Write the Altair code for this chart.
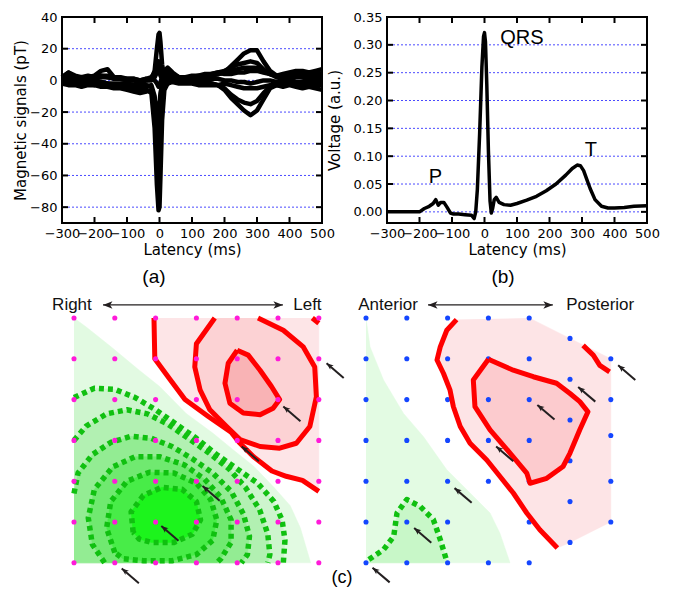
import altair as alt
import pandas as pd

# ---------------- panel (a): magnetic traces ----------------
T_MS = [-300, -280, -260, -240, -220, -200, -180, -160, -140, -120, -100, -80, -60, -40,
        -25, -15, -8, -3, 0, 3, 8, 15, 25,
        40, 60, 80, 100, 120, 140, 160, 180, 200, 220, 240, 260, 280, 300, 320, 340,
        360, 380, 400, 420, 440, 460, 480, 500]
TRACE_1 = [1, 3, 1, 0, 1, 1, 2, 2, 1, 1, 0, 0, -1, 0,
           1, 6, 20, 29, 30, 24, 10, 2, 3,
           4, 2, 1, 2, 2, 3, 3, 4, 5, 9, 13, 17, 19, 19, 12, 6, 3, 2, 2, 3, 2, 1, 2, 3]
TRACE_2 = [-1, -2, -2, -1, -2, -3, -2, -3, -4, -4, -5, -6, -7, -6,
           -8, -30, -66, -82, -80, -60, -25, -6, -2,
           0, -1, -1, -1, -2, -2, -2, -3, -6, -11, -15, -19, -22, -19, -12, -5, -3, -3, -2, -3, -3, -2, -3, -3]
TRACE_3 = [0, 0, -1, -2, -1, -2, -1, -2, -3, -3, -3, -4, -5, -4,
           -3, -10, -28, -35, -30, -18, -6, -1, 1,
           1, 0, 0, -1, -1, -1, -2, -3, -5, -9, -12, -14, -15, -13, -8, -4, -2, -2, -1, -2, -2, -1, -2, -2]
TRACE_4 = [2, 5, 2, 1, 2, 2, 3, 2, 2, 1, 1, 1, 0, 1,
           2, 5, 10, 12, 10, 6, 3, 6, 8,
           5, 2, 2, 3, 3, 4, 4, 5, 6, 8, 10, 11, 12, 11, 7, 4, 3, 3, 3, 4, 4, 3, 4, 4]
TRACE_5 = [0, 1, 0, 1, 2, 3, 6, 7, 2, 1, 0, 0, -1, 0,
           0, 2, 5, 6, 5, 3, 1, 0, 1,
           1, 1, 0, 1, 2, 2, 3, 4, 5, 6, 7, 8, 8, 8, 6, 4, 2, 1, 1, 2, 2, 1, 1, 2]
TRACE_6 = [-2, -3, -3, -4, -3, -3, -4, -4, -5, -5, -6, -7, -8, -7,
           -6, -12, -18, -20, -15, -8, -3, -2, -2,
           -1, -2, -2, -2, -3, -3, -3, -3, -2, -3, -4, -5, -5, -5, -4, -3, -3, -4, -3, -4, -5, -4, -5, -6]
TRACE_7 = [2, 5, 3, 2, 3, 2, 3, 3, 2, 2, 1, 1, 0, 1,
           1, 0, -2, -4, -3, -1, 2, 4, 6,
           3, 2, 2, 2, 3, 3, 4, 5, 4, 4, 5, 5, 6, 6, 5, 4, 3, 4, 5, 6, 6, 5, 6, 7]
TRACE_8 = [0, -1, 0, 0, -1, -1, -1, -2, -2, -2, -2, -3, -3, -3,
           -4, -15, -45, -55, -48, -30, -10, -3, 0,
           1, 0, 0, 0, 1, 1, 1, 1, 0, 0, -1, -1, -2, -1, 0, 0, -1, -1, 0, -1, -1, 0, -1, 0]
A_TRACES = [TRACE_1, TRACE_2, TRACE_3, TRACE_4, TRACE_5, TRACE_6, TRACE_7, TRACE_8]

# ---------------- panel (b): ECG ----------------
ECG_T = [-300, -250, -200, -185, -170, -158, -150, -142, -135, -125, -115, -105, -95,
         -80, -60, -40, -32, -27, -22, -15, -8, -3, 0,
         3, 7, 12, 17, 21, 25, 30, 36, 45, 60,
         80, 100, 130, 160, 190, 220, 250, 270, 285, 295,
         305, 315, 325, 340, 360, 380, 400, 430, 460, 500]
ECG_V = [0.0, 0.0, 0.0, 0.006, 0.01, 0.015, 0.022, 0.012, 0.017, 0.017, 0.008, -0.002, -0.004,
         -0.004, -0.005, -0.006, -0.012, 0.0, 0.04, 0.14, 0.26, 0.315, 0.322,
         0.305, 0.23, 0.11, 0.02, -0.002, 0.006, 0.022, 0.026, 0.017, 0.013,
         0.012, 0.015, 0.021, 0.028, 0.038, 0.05, 0.066, 0.078, 0.084, 0.083,
         0.074, 0.058, 0.042, 0.022, 0.01, 0.007, 0.007, 0.008, 0.01, 0.011]
B_LABELS = ["P", "QRS", "T"]
B_LABEL_T = [-151, 115, 327]
B_LABEL_V = [0.062, 0.3115, 0.112]

X_TICKS = [-300, -200, -100, 0, 100, 200, 300, 400, 500]
A_Y_TICKS = [40, 20, 0, -20, -40, -60, -80]
A_GRID = [20, 0, -20, -40, -60, -80]
B_Y_TICKS = [0.0, 0.05, 0.10, 0.15, 0.20, 0.25, 0.30, 0.35]
B_GRID = [0.0, 0.05, 0.10, 0.15, 0.20, 0.25, 0.30]

# ---------------- panel (c): maps (grid units, 7x7 sensor grid) ----------------
GREEN_BOUND_L = [(0, 0), (0.3, 0.22), (0.9, 0.7), (1.6, 1.28), (2.1, 1.68), (2.75, 2.34), (3.4, 2.82),
                 (3.9, 3.23), (4.4, 3.63), (4.9, 4.15), (5.3, 4.6), (5.55, 5.15), (5.8, 6.0), (0, 6.0)]
RING6 = [(0.0, 1.95), (0.5, 1.72), (1.0, 1.75), (1.5, 1.95), (2.0, 2.25), (2.5, 2.6), (3.0, 2.95),
         (3.5, 3.35), (4.0, 3.7), (4.5, 4.05), (4.9, 4.5), (5.1, 4.95), (5.17, 5.45), (5.13, 6.0)]
RING5 = [(0.0, 3.0), (0.3, 2.65), (0.8, 2.35), (1.3, 2.25), (1.8, 2.35), (2.3, 2.6), (2.8, 2.95),
         (3.3, 3.3), (3.8, 3.7), (4.2, 4.15), (4.55, 4.7), (4.75, 5.3), (4.8, 5.8), (4.75, 6.0)]
RING4 = [(0.0, 4.3), (0.1, 3.8), (0.45, 3.35), (0.9, 3.05), (1.4, 2.9), (1.9, 2.95), (2.4, 3.15),
         (2.9, 3.45), (3.4, 3.8), (3.85, 4.25), (4.15, 4.8), (4.3, 5.35), (4.25, 5.8), (4.1, 6.0)]
RING3 = [(0.75, 6.0), (0.45, 5.55), (0.35, 4.9), (0.5, 4.2), (0.95, 3.65), (1.5, 3.4), (2.1, 3.4),
         (2.7, 3.6), (3.2, 3.95), (3.6, 4.4), (3.85, 4.95), (3.85, 5.5), (3.6, 5.9), (3.5, 6.0)]
RING2 = [(1.0, 5.75), (0.8, 5.15), (0.9, 4.5), (1.3, 4.0), (1.85, 3.78), (2.45, 3.8), (3.0, 4.05),
         (3.35, 4.45), (3.5, 4.95), (3.4, 5.45), (3.0, 5.8), (2.4, 5.95), (1.7, 5.95), (1.2, 5.9), (1.0, 5.75)]
RING1 = [(1.45, 5.25), (1.4, 4.75), (1.7, 4.35), (2.15, 4.15), (2.65, 4.2), (3.0, 4.5), (3.1, 4.95),
         (2.9, 5.3), (2.45, 5.5), (1.9, 5.5), (1.6, 5.42), (1.45, 5.25)]
OUTER_RED_L = [(1.96, 0.0), (1.98, 1.0), (2.35, 1.5), (2.72, 2.0), (3.3, 2.42), (3.85, 2.8), (4.05, 3.05),
               (4.4, 3.4), (4.85, 3.75), (5.2, 3.88), (5.6, 3.98), (6.0, 4.25)]
MID_RED_L = [(3.45, 0.0), (3.0, 0.63), (2.96, 1.2), (3.09, 1.76), (3.33, 2.25), (3.74, 2.66), (4.07, 2.98),
             (4.56, 3.15), (5.04, 3.19), (5.45, 3.07), (5.78, 2.66), (5.94, 1.93), (5.9, 1.2), (5.62, 0.71),
             (5.13, 0.3), (4.51, 0.0)]
INNER_RED_L = [(4.0, 0.79), (3.78, 1.11), (3.7, 1.6), (3.82, 2.09), (4.15, 2.33), (4.56, 2.37), (4.88, 2.21),
               (5.04, 2.0), (4.84, 1.68), (4.56, 1.28), (4.27, 0.91), (4.0, 0.79)]
CORNER_RED_L = [(5.84, 0.0), (6.0, 0.13)]
ARROWS_L = [(6.19, 1.11), (5.13, 2.17), (4.11, 3.15), (3.15, 4.12), (2.14, 5.1), (1.17, 6.14)]

GREEN_BOUND_R = [(0, 0), (0.1, 0.71), (0.43, 1.52), (0.92, 2.34), (1.41, 2.91), (1.98, 3.72), (2.63, 4.37),
                 (3.04, 4.78), (3.28, 5.27), (3.53, 6.0), (0, 6.0)]
GREEN_LOOP_R = [(0.07, 5.92), (0.43, 5.68), (0.68, 5.35), (0.76, 4.78), (1.0, 4.45), (1.33, 4.62),
                (1.65, 4.94), (1.82, 5.43), (1.98, 5.96)]
OUTER_RED_R = [(2.22, 0.04), (1.98, 0.3), (1.82, 0.71), (1.74, 1.03), (1.9, 1.36), (2.06, 1.77), (2.14, 2.17),
               (2.31, 2.66), (2.55, 3.07), (2.96, 3.48), (3.28, 3.88), (3.61, 4.29), (3.94, 4.78), (4.26, 5.19),
               (4.69, 5.64)]
PINK_HULL_R = [(5.0, 5.5), (6.0, 5.0), (6.0, 1.0), (5.0, 0.5), (4.0, 0.0)]
INNER_RED_R = [(3.0, 1.01), (2.63, 1.52), (2.67, 2.17), (3.04, 2.74), (3.53, 3.31), (3.94, 3.8), (4.02, 4.05),
               (4.43, 3.93), (4.83, 3.64), (5.0, 3.31), (5.24, 2.74), (5.44, 2.3), (5.24, 2.05), (5.0, 1.85),
               (4.67, 1.6), (4.1, 1.44), (3.61, 1.28), (3.0, 1.01)]
TOPRIGHT_RED_R = [(5.32, 0.67), (5.57, 0.91), (5.73, 1.16), (5.97, 1.32)]
ARROWS_R = [(6.18, 1.16), (5.2, 1.69), (4.2, 2.13), (3.19, 3.15), (2.17, 4.17), (1.18, 5.15), (0.16, 6.12)]

DOTS_L_X = [c for c in range(7) for r in range(7)]
DOTS_L_Y = [r for c in range(7) for r in range(7)]
DOTS_R_X = [0] * 7 + [1] * 7 + [2] * 7 + [3] * 6 + [4] * 7 + [5] * 6 + [6] * 5
DOTS_R_Y = (list(range(7)) * 3 + [0, 1, 2, 3, 4, 6] + list(range(7))
            + [0.5, 1.5, 2.5, 3.5, 4.5, 5.5] + [1, 2, 2.88, 4, 5])

# ---------------- styling ----------------
AX_FONT = "DejaVu Sans"
TX_FONT = "Liberation Sans"
W, H = 260, 206
MAP_H = 294
Y_MAP = [-0.686, 6.52]
X_MAP_L = [-0.294, 6.078]
X_MAP_R = [0.5147, 6.887]
ARROW_DX, ARROW_DY = 0.42, 0.36
HEAD_PATH = "M0,0 L0.8,2 L0,1.5 L-0.8,2 Z"
HHEAD_PATH = "M0,0 L2,-0.8 L1.5,0 L2,0.8 Z"


def panel(df_lines, ydom, yticks, ygrid, yfmt, ytitle, ytsize, lab_pad, title_pad, sw, texts):
    sx = alt.Scale(domain=[-300, 500], nice=False, zero=False)
    sy = alt.Scale(domain=ydom, nice=False, zero=False)
    ax_x = alt.Axis(values=X_TICKS, ticks=False, domain=False, grid=False, labelFont=AX_FONT,
                    labelFontSize=13, labelPadding=4, labelOverlap=False, labelFlush=False,
                    labelColor="black", titleFont=AX_FONT, titleFontSize=15, titleFontWeight="normal",
                    titleColor="black", titlePadding=2, title="Latency (ms)")
    ax_y = alt.Axis(values=yticks, format=yfmt, ticks=False, domain=False,
                    grid=False, labelFont=AX_FONT, labelFontSize=13,
                    labelPadding=lab_pad, labelOverlap=False, labelFlush=False,
                    labelColor="black", titleFont=AX_FONT, titleFontSize=ytsize,
                    titleFontWeight="normal", titleColor="black",
                    titlePadding=title_pad, title=ytitle)
    xa = alt.X("t:Q", scale=sx, axis=ax_x)
    ya = alt.Y("v:Q", scale=sy, axis=ax_y)
    grid = alt.Chart(pd.DataFrame({"v": ygrid})).mark_rule(
        color="#4a4aff", strokeDash=[2, 2], strokeWidth=1).encode(y=ya)
    xt = pd.DataFrame({"t": X_TICKS})
    yt = pd.DataFrame({"v": yticks})
    tick_b = alt.Chart(xt).mark_rule(color="black", strokeWidth=2).encode(
        x=xa, y=alt.value(H), y2=alt.value(H - 6))
    tick_t = alt.Chart(xt).mark_rule(color="black", strokeWidth=2).encode(
        x=xa, y=alt.value(0), y2=alt.value(6))
    tick_l = alt.Chart(yt).mark_rule(color="black", strokeWidth=2).encode(
        y=ya, x=alt.value(0), x2=alt.value(6))
    tick_r = alt.Chart(yt).mark_rule(color="black", strokeWidth=2).encode(
        y=ya, x=alt.value(W - 6), x2=alt.value(W))
    lines = alt.Chart(df_lines).mark_line(color="black", strokeWidth=sw, strokeJoin="round").encode(
        x=xa, y=ya, detail="trace:N")
    txt_layers = []
    for (dft, size) in texts:
        txt_layers.append(alt.Chart(dft).mark_text(font=TX_FONT, fontSize=size, color="black").encode(
            x=xa, y=ya, text="label:N"))
    return alt.layer(grid, lines, tick_b, tick_t, tick_l, tick_r, *txt_layers).properties(
        width=W, height=H, view=alt.ViewBackground(stroke="black", strokeWidth=2))


rows = []
for k, tr in enumerate(A_TRACES):
    for t, v in zip(T_MS, tr):
        rows.append({"t": t, "v": v, "trace": f"ch{k}"})
df_a = pd.DataFrame(rows)
chart_a = panel(df_a, [-90, 40], A_Y_TICKS, A_GRID, "d", "Magnetic signals (pT)", 15, 5, 1, 4.5,
                [(pd.DataFrame({"t": [-17], "v": [-124], "label": ["(a)"]}), 19)])

df_b = pd.DataFrame({"t": ECG_T, "v": ECG_V, "trace": "ecg"})
chart_b = panel(df_b, [-0.02, 0.35], B_Y_TICKS, B_GRID, ".2f", "Voltage (a.u.)", 15, 5, 11, 3.5,
                [(pd.DataFrame({"t": B_LABEL_T, "v": B_LABEL_V, "label": B_LABELS}), 20),
                 (pd.DataFrame({"t": [57], "v": [-0.117], "label": ["(b)"]}), 19)])


# ---------------- map helpers ----------------
def enc(xdom):
    sx = alt.Scale(domain=xdom, nice=False, zero=False)
    sy = alt.Scale(domain=Y_MAP, nice=False, zero=False, reverse=True)
    return sx, sy


def pts_df(pts):
    return pd.DataFrame({"x": [p[0] for p in pts], "y": [p[1] for p in pts], "i": list(range(len(pts)))})


def poly(pts, fill, xdom):
    sx, sy = enc(xdom)
    return alt.Chart(pts_df(pts)).mark_line(fill=fill, stroke=fill, strokeWidth=0.5).encode(
        x=alt.X("x:Q", scale=sx, axis=None), y=alt.Y("y:Q", scale=sy, axis=None), order="i:Q")


def pline(pts, color, width, xdom, dash=None):
    sx, sy = enc(xdom)
    kw = dict(color=color, strokeWidth=width, strokeJoin="round", strokeCap="butt")
    if dash:
        kw["strokeDash"] = dash
    return alt.Chart(pts_df(pts)).mark_line(**kw).encode(
        x=alt.X("x:Q", scale=sx, axis=None), y=alt.Y("y:Q", scale=sy, axis=None), order="i:Q")


def dots(xs, ys, color, xdom):
    sx, sy = enc(xdom)
    return alt.Chart(pd.DataFrame({"x": xs, "y": ys})).mark_circle(size=26, color=color, opacity=1).encode(
        x=alt.X("x:Q", scale=sx, axis=None), y=alt.Y("y:Q", scale=sy, axis=None))


def arrows(tips, xdom):
    sx, sy = enc(xdom)
    df = pd.DataFrame({"x": [p[0] for p in tips], "y": [p[1] for p in tips]})
    df["x2"] = df["x"] + ARROW_DX
    df["y2"] = df["y"] + ARROW_DY
    body = alt.Chart(df).mark_rule(color="#231f20", strokeWidth=2).encode(
        x=alt.X("x:Q", scale=sx, axis=None), y=alt.Y("y:Q", scale=sy, axis=None), x2="x2:Q", y2="y2:Q")
    head = alt.Chart(df).mark_point(shape=HEAD_PATH, size=49, filled=True, color="#231f20",
                                    angle=309, opacity=1).encode(
        x=alt.X("x:Q", scale=sx, axis=None), y=alt.Y("y:Q", scale=sy, axis=None))
    return [body, head]


def header(labels, lx, ax1, ax2, gy, xdom):
    sx, sy = enc(xdom)
    tdf = pd.DataFrame({"x": lx, "y": [gy] * len(lx), "label": labels})
    txt = alt.Chart(tdf).mark_text(font=TX_FONT, fontSize=17, color="#111111").encode(
        x=alt.X("x:Q", scale=sx, axis=None), y=alt.Y("y:Q", scale=sy, axis=None), text="label:N")
    rdf = pd.DataFrame({"x": [ax1], "x2": [ax2], "y": [gy]})
    rule = alt.Chart(rdf).mark_rule(color="#231f20", strokeWidth=1.3).encode(
        x=alt.X("x:Q", scale=sx, axis=None), x2="x2:Q", y=alt.Y("y:Q", scale=sy, axis=None))
    hdf = pd.DataFrame({"x": [ax1, ax2], "y": [gy, gy], "a": [0, 180]})
    heads = alt.Chart(hdf).mark_point(shape=HHEAD_PATH, size=90, filled=True, color="#231f20",
                                      opacity=1).encode(
        x=alt.X("x:Q", scale=sx, axis=None), y=alt.Y("y:Q", scale=sy, axis=None),
        angle=alt.Angle("a:Q", scale=None))
    return [txt, rule, heads]


XL = X_MAP_L
DASH = [5, 4]
GREEN_DASH = "#10c010"
RED = "#ff0000"
layers_l = [
    poly(GREEN_BOUND_L, "#e2fae2", XL),
    poly(RING6 + [(0, 6.0)], "#cdf5cd", XL),
    poly(RING5 + [(0, 6.0)], "#b2f0b2", XL),
    poly(RING4 + [(0, 6.0)], "#93ec93", XL),
    poly(RING3, "#70e970", XL),
    poly(RING2, "#48ec48", XL),
    poly(RING1, "#1cf41c", XL),
    poly(OUTER_RED_L + [(6.0, 0.0)], "#fde5e7", XL),
    poly(MID_RED_L, "#fcd2d4", XL),
    poly(INNER_RED_L, "#f9b3b5", XL),
]
for ring in [RING6, RING5, RING4, RING3, RING2, RING1]:
    layers_l.append(pline(ring, GREEN_DASH, 5.5, XL, DASH))
for rl in [OUTER_RED_L, MID_RED_L, INNER_RED_L, CORNER_RED_L]:
    layers_l.append(pline(rl, RED, 5, XL))
layers_l.append(dots(DOTS_L_X, DOTS_L_Y, "#ff1ad9", XL))
layers_l += arrows(ARROWS_L, XL)
layers_l += header(["Right", "Left"], [-0.05, 5.72], 0.71, 5.12, -0.32, XL)
sxl, syl = enc(XL)
layers_l.append(alt.Chart(pd.DataFrame({"x": [6.57], "y": [6.37], "label": ["(c)"]})).mark_text(
    font=TX_FONT, fontSize=18, color="black").encode(
    x=alt.X("x:Q", scale=sxl, axis=None), y=alt.Y("y:Q", scale=syl, axis=None), text="label:N"))
map_l = alt.layer(*layers_l).properties(width=W, height=MAP_H)

XR = X_MAP_R
layers_r = [
    poly(GREEN_BOUND_R, "#e3fbe3", XR),
    poly(GREEN_LOOP_R + [(1.98, 6.0), (0.07, 6.0)], "#c8f7c8", XR),
    poly(OUTER_RED_R + PINK_HULL_R, "#fde4e6", XR),
    poly(INNER_RED_R, "#fccbce", XR),
    dots(DOTS_R_X, DOTS_R_Y, "#1446ff", XR),
    pline(GREEN_LOOP_R, GREEN_DASH, 5.5, XR, DASH),
    pline(OUTER_RED_R, RED, 5, XR),
    pline(INNER_RED_R, RED, 5, XR),
    pline(TOPRIGHT_RED_R, RED, 5, XR),
]
layers_r += arrows(ARROWS_R, XR)
layers_r += header(["Anterior", "Posterior"], [0.54, 5.74], 1.52, 4.58, -0.32, XR)
map_r = alt.layer(*layers_r).properties(width=W, height=MAP_H)

chart = alt.concat(chart_a, chart_b, map_l, map_r, columns=2, bounds="flush",
                   spacing={"row": 67, "column": 65}).properties(
    padding={"left": 4, "top": 2, "right": 4, "bottom": 0}
).configure_view(stroke="transparent")

chart.save("out.html", embed_options={"renderer": "svg", "actions": False})
